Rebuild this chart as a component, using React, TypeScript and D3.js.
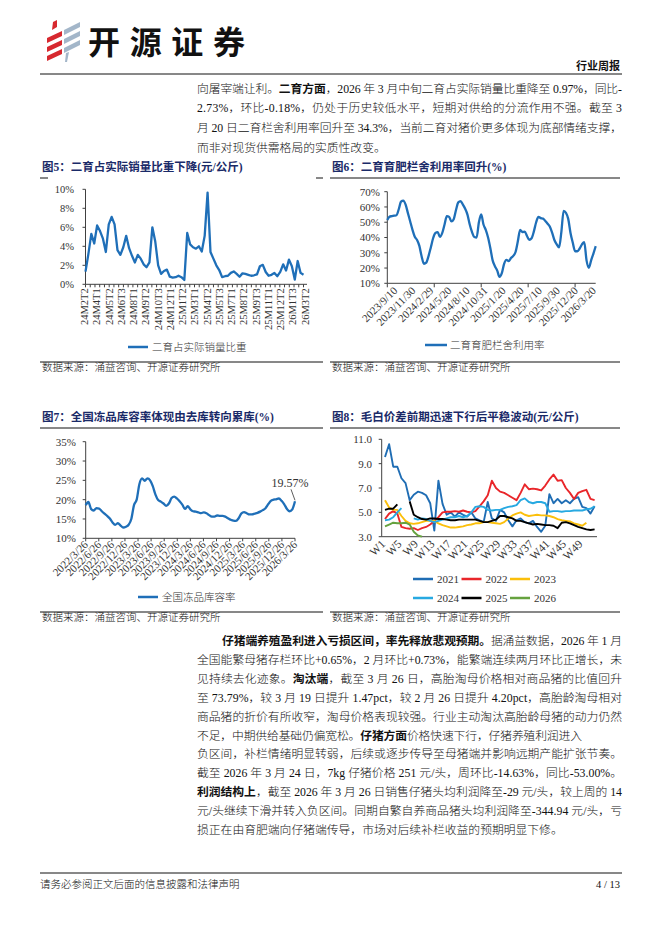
import React from 'react';
import * as d3 from 'd3';

const FONT = "'Liberation Serif','Noto Sans CJK SC',serif";
const BLUE = '#1f6fb8';
const TITLE = '#1a2a68';
const AX = '#404040';

// ---------- Chart 5: 二育占实际销量比重 (%) ----------
const share5Labels = ['24M2T2','24M4T1','24M5T2','24M6T3','24M8T1','24M9T2','24M10T3','24M12T1','25M1T2','25M3T1','25M4T2','25M5T3','25M7T1','25M8T2','25M9T3','25M11T1','25M12T2','26M1T3','26M3T2'];
const share5 = [1.33,3.2,5.3,4.3,6.2,5.6,4.8,3.4,6.3,7.1,6.3,3.6,3.1,3.9,5.1,3.8,3.0,2.3,3.1,2.7,2.1,1.8,2.3,6.0,4.5,2.0,1.1,1.4,1.55,0.8,0.7,0.75,0.9,0.75,0.45,5.4,4.2,3.9,3.75,4.0,3.45,5.1,9.65,3.4,2.7,2.0,1.5,0.75,0.85,0.9,1.2,1.35,1.1,0.8,1.15,1.1,1.0,0.9,0.95,1.05,1.9,2.05,1.3,0.9,1.0,1.2,0.85,1.3,2.1,1.45,2.6,1.9,0.5,2.45,1.2,1.0];
const share5Ticks = [0,2,4,6,8,10];

// ---------- Chart 6: 二育育肥栏舍利用率 (%) ----------
const util6Labels = ['2023/9/10','2023/11/30','2024/2/29','2024/5/20','2024/8/10','2024/10/31','2025/1/20','2025/4/20','2025/7/10','2025/9/30','2025/12/20','2026/3/20'];
const util6 = [51.5,53.7,54.0,54.3,54.6,58.5,63.5,64.2,61.5,56,50.5,45,40.5,38.4,34.5,27.6,22.8,23.5,27.8,33.5,39.5,43,43.5,40.4,43,48.5,54,53.5,50.5,52,58,63,63.8,61.5,58.8,55,48.5,43.5,40.3,40,50,55.2,48.5,45,40,33,25,21.2,18.3,14.2,16.6,22.8,25.4,24.5,26.5,28,30.5,37.5,45,43.6,43.8,41,38.5,39.5,44,50,53.5,52.7,52.4,50.8,49,47,43,38.2,35.5,33.5,43.5,57.5,56.2,52.2,43,36.5,31,31,32.8,35.5,37.0,25,20.2,25,29.5,34.3];
const util6Ticks = [10,20,30,40,50,60,70];
const util6XTicks = [0,20.5,41,61.5,82];

// ---------- Chart 7: 全国冻品库容率 (%) ----------
const frozen7Labels = ['2022/3/26','2022/6/26','2022/9/26','2022/12/26','2023/3/26','2023/6/26','2023/9/26','2023/12/26','2024/3/26','2024/6/26','2024/9/26','2024/12/26','2025/3/26','2025/6/26','2025/9/26','2025/12/26','2026/3/26'];
const frozen7 = [18.6,19.4,17.6,17.2,17.8,17.7,17.0,16.4,15.8,15.1,14.1,13.5,13.9,13.3,12.8,13.0,13.5,15.0,18.6,20.0,24.0,25.5,24.9,25.5,25.0,23.5,21.3,19.9,19.5,19.0,18.4,19.0,20.4,20.8,20.3,19.6,18.7,17.6,18.3,17.5,17.0,16.9,16.7,16.5,16.7,16.5,16.0,15.6,15.6,15.9,15.8,15.8,15.6,15.2,14.8,14.6,14.5,15.2,16.4,16.8,16.5,16.2,16.2,16.4,16.6,16.9,17.3,17.8,18.8,19.7,20.0,20.1,20.3,19.7,18.8,17.6,17.0,17.5,19.57];
const frozen7Ticks = [10,15,20,25,30,35];

// ---------- Chart 8: 毛白价差 (元/公斤) ----------
const weeks8 = d3.range(1, 53).map(i => 'W' + i);
const spread8Years = ['2021','2022','2023','2024','2025','2026'];
const spread2021 = [9.55,10.6,8.75,8.75,7.8,7.4,6.0,6.45,6.7,6.6,6.4,5.75,3.5,7.6,5.7,4.8,5.0,4.65,5.0,4.8,4.65,5.0,4.5,4.35,4.2,5.85,4.5,4.3,5.2,5.0,4.35,3.85,4.35,4.5,4.2,4.1,4.3,3.8,3.4,3.9,6.5,5.75,6.1,5.75,6.0,5.75,6.1,6.25,5.45,5.35,4.9,5.5];
const spread2022 = [4.45,4.9,5.1,4.9,3.8,3.7,3.65,3.7,3.55,3.7,3.8,4.0,4.3,4.6,5.0,5.05,5.05,5.1,5.05,5.15,5.05,5.0,5.1,5.5,5.9,6.4,7.6,7.0,6.7,6.6,6.4,6.2,6.0,6.6,7.3,6.9,6.95,6.9,6.8,7.2,7.7,8.1,7.6,7.65,7.0,6.6,6.1,6.6,6.75,6.85,6.1,6.0];
const spread2023 = [6.0,5.4,5.2,5.2,4.7,4.3,4.1,4.05,4.1,4.2,4.3,4.3,4.3,4.1,3.95,3.85,3.75,3.75,3.8,3.85,3.95,4.0,4.1,4.1,4.2,4.2,4.15,4.1,4.05,4.2,4.5,4.75,4.9,5.0,4.8,4.7,4.75,4.8,4.75,4.75,4.7,4.6,4.45,4.35,4.3,4.25,4.1,4.0,3.9,4.15,null,null];
const spread2024 = [4.35,4.4,4.6,5.0,5.35,null,null,4.5,4.4,4.5,4.45,4.3,4.2,4.3,4.4,4.5,4.6,4.6,4.7,4.6,4.7,5.0,5.45,5.5,5.45,5.2,5.15,5.2,5.2,5.35,5.45,5.5,5.6,6.0,6.15,5.85,5.75,5.85,5.85,5.75,5.05,5.1,5.1,5.05,5.1,5.1,5.15,5.15,5.15,5.25,5.3,5.5];
const spread2025 = [5.2,5.3,5.3,5.65,null,null,5.9,4.8,4.6,4.45,4.4,4.5,4.5,4.45,4.45,4.4,4.35,4.35,4.4,4.4,4.4,4.4,4.4,4.3,4.2,4.2,4.3,4.4,4.7,4.7,4.6,4.5,4.3,4.3,4.2,4.1,4.0,4.05,4.0,3.95,3.95,3.9,3.7,4.15,4.2,4.1,3.95,3.8,3.7,3.6,3.55,3.6];
const spread2026 = [3.85,4.0,4.15,4.1,4.1,4.15,4.0,3.4,3.1,3.0];
const spread8Colors = ['#1f6db4','#e9262a','#fbbf0b','#27a9e1','#000000','#66a23f'];
const spread8Ticks = [3,5,7,9,11];

// ---------- Body text ----------
type Seg = { t: string; b?: boolean };
const topLines: Seg[][] = [
  [{ t: '向屠宰端让利。' }, { t: '二育方面', b: true }, { t: '，2026 年 3 月中旬二育占实际销量比重降至 0.97%，同比-' }],
  [{ t: '2.73%，环比-0.18%，仍处于历史较低水平，短期对供给的分流作用不强。截至 3' }],
  [{ t: '月 20 日二育栏舍利用率回升至 34.3%，当前二育对猪价更多体现为底部情绪支撑，' }],
  [{ t: '而非对现货供需格局的实质性改变。' }],
];
const topJustify = [true, true, true, false];
const bottomLines: Seg[][] = [
  [{ t: '仔猪端养殖盈利进入亏损区间，率先释放悲观预期。', b: true }, { t: '据涌益数据，2026 年 1 月' }],
  [{ t: '全国能繁母猪存栏环比+0.65%，2 月环比+0.73%，能繁端连续两月环比正增长，未' }],
  [{ t: '见持续去化迹象。' }, { t: '淘汰端', b: true }, { t: '，截至 3 月 26 日，高胎淘母价格相对商品猪的比值回升' }],
  [{ t: '至 73.79%，较 3 月 19 日提升 1.47pct，较 2 月 26 日提升 4.20pct，高胎龄淘母相对' }],
  [{ t: '商品猪的折价有所收窄，淘母价格表现较强。行业主动淘汰高胎龄母猪的动力仍然' }],
  [{ t: '不足，中期供给基础仍偏宽松。' }, { t: '仔猪方面', b: true }, { t: '价格快速下行，仔猪养殖利润进入' }],
  [{ t: '负区间，补栏情绪明显转弱，后续或逐步传导至母猪端并影响远期产能扩张节奏。' }],
  [{ t: '截至 2026 年 3 月 24 日，7kg 仔猪价格 251 元/头，周环比-14.63%，同比-53.00%。' }],
  [{ t: '利润结构上', b: true }, { t: '，截至 2026 年 3 月 26 日销售仔猪头均利润降至-29 元/头，较上周的 14' }],
  [{ t: '元/头继续下滑并转入负区间。同期自繁自养商品猪头均利润降至-344.94 元/头，亏' }],
  [{ t: '损正在由育肥端向仔猪端传导，市场对后续补栏收益的预期明显下修。' }],
];
const bottomWidths = [400, 425, 425, 425, 425, 385, 425, 425, 425, 425, 0];

function TextLine({ x, y, segs, width, fs = 11.8 }: { x: number; y: number; segs: Seg[]; width: number; fs?: number }) {
  const extra: any = width > 0 ? { textLength: width, lengthAdjust: 'spacing' } : {};
  return (
    <text x={x} y={y} fontSize={fs} fill="#111" {...extra}>
      {segs.map((s, i) => (
        <tspan key={i} fontWeight={s.b ? 700 : 300}>{s.t}</tspan>
      ))}
    </text>
  );
}

function Title({ x, y, text }: { x: number; y: number; text: string }) {
  return <text x={x} y={y} fontSize={11.5} fontWeight={700} fill={TITLE}>{text}</text>;
}

function Source({ x, y }: { x: number; y: number }) {
  return <text x={x} y={y} fontSize={10.5} fontWeight={300} fill="#111">数据来源：涌益咨询、开源证券研究所</text>;
}

function Chart5() {
  const n = share5.length;
  const x = d3.scaleLinear().domain([0, n - 1]).range([85.5, 303.5]);
  const y = d3.scaleLinear().domain([0, 10]).range([284.3, 189.3]);
  const line = d3.line<number>().x((_, i) => x(i)).y(d => y(d));
  const minor = d3.range(47).map(i => x((i * (n - 1)) / 46));
  const lab = d3.scalePoint<string>().domain(share5Labels).range([84.5, 305]);
  return (
    <g>
      <line x1={x(0)} x2={x(0)} y1={y(10)} y2={y(0)} stroke={AX} />
      {share5Ticks.map(t => (
        <g key={t}>
          <line x1={x(0) - 3} x2={x(0)} y1={y(t)} y2={y(t)} stroke={AX} />
          <text x={74} y={y(t)} dy="0.35em" textAnchor="end" fontSize={10.5} fill="#333">{t}%</text>
        </g>
      ))}
      <line x1={x(0)} x2={307} y1={y(0)} y2={y(0)} stroke={AX} />
      {minor.map((m, i) => <line key={i} x1={m} x2={m} y1={y(0)} y2={y(0) + 3} stroke={AX} />)}
      {share5Labels.map(l => (
        <text key={l} transform={`translate(${lab(l)},${y(0) + 4}) rotate(-90)`} dy="0.35em" textAnchor="end" fontSize={10.5} fill="#333">{l}</text>
      ))}
      <path d={line(share5) || ''} fill="none" stroke={BLUE} strokeWidth={2.3} strokeLinejoin="round" />
      <line x1={128} x2={148} y1={347} y2={347} stroke={BLUE} strokeWidth={2.5} />
      <text x={152} y={347} dy="0.35em" fontSize={10.5} fontWeight={300} fill="#333">二育占实际销量比重</text>
    </g>
  );
}

function Chart6() {
  const n = util6.length;
  const x = d3.scaleLinear().domain([0, n - 1]).range([387.3, 595.7]);
  const y = d3.scaleLinear().domain([10, 70]).range([283.3, 191.7]);
  const line = d3.line<number>().x((_, i) => x(i)).y(d => y(d)).curve(d3.curveMonotoneX);
  const lab = d3.scalePoint<string>().domain(util6Labels).range([x(4.7), x(n - 1) + 1]);
  return (
    <g>
      <line x1={x(0)} x2={x(0)} y1={y(70)} y2={y(10)} stroke={AX} />
      {util6Ticks.map(t => (
        <g key={t}>
          <line x1={x(0) - 3} x2={x(0)} y1={y(t)} y2={y(t)} stroke={AX} />
          <text x={380} y={y(t)} dy="0.35em" textAnchor="end" fontSize={11} fill="#333">{t}%</text>
        </g>
      ))}
      <line x1={x(0)} x2={x(n - 1)} y1={y(10)} y2={y(10)} stroke={AX} />
      {util6XTicks.map(t => <line key={t} x1={x(t)} x2={x(t)} y1={y(10)} y2={y(10) + 4} stroke={AX} />)}
      {util6Labels.map(l => (
        <text key={l} transform={`translate(${lab(l)},${y(10) + 8}) rotate(-45)`} textAnchor="end" fontSize={11} fill="#333">{l}</text>
      ))}
      <path d={line(util6) || ''} fill="none" stroke={BLUE} strokeWidth={2.3} strokeLinejoin="round" />
      <line x1={425} x2={447} y1={345} y2={345} stroke={BLUE} strokeWidth={2.5} />
      <text x={450} y={345} dy="0.35em" fontSize={10.5} fontWeight={300} fill="#333">二育育肥栏舍利用率</text>
    </g>
  );
}

function Chart7() {
  const n = frozen7.length;
  const x = d3.scaleLinear().domain([0, n - 1]).range([85.7, 295]);
  const y = d3.scaleLinear().domain([10, 35]).range([538.3, 441.7]);
  const line = d3.line<number>().x((_, i) => x(i)).y(d => y(d)).curve(d3.curveMonotoneX);
  const lab = d3.scalePoint<string>().domain(frozen7Labels).range([x(0), x(n - 1)]);
  const last = frozen7[n - 1];
  return (
    <g>
      <line x1={x(0)} x2={x(0)} y1={y(35)} y2={y(10)} stroke={AX} />
      {frozen7Ticks.map(t => (
        <g key={t}>
          <line x1={x(0) - 3} x2={x(0)} y1={y(t)} y2={y(t)} stroke={AX} />
          <text x={76} y={y(t)} dy="0.35em" textAnchor="end" fontSize={11} fill="#333">{t}%</text>
        </g>
      ))}
      <line x1={x(0)} x2={x(n - 1)} y1={y(10)} y2={y(10)} stroke={AX} />
      {frozen7Labels.map(l => (
        <g key={l}>
          <line x1={lab(l)} x2={lab(l)} y1={y(10)} y2={y(10) + 3} stroke={AX} />
          <text transform={`translate(${(lab(l) || 0) + 3},${y(10) + 7}) rotate(-45)`} textAnchor="end" fontSize={11} fill="#333">{l}</text>
        </g>
      ))}
      <path d={line(frozen7) || ''} fill="none" stroke={BLUE} strokeWidth={2.3} strokeLinejoin="round" />
      <line x1={x(n - 1) - 4} x2={x(n - 1)} y1={y(last) - 12} y2={y(last) - 1} stroke="#333" strokeWidth={0.8} />
      <text x={x(n - 1) - 5} y={y(last) - 14} textAnchor="middle" fontSize={12} fill="#333">{last.toFixed(2)}%</text>
      <line x1={138} x2={158} y1={597} y2={597} stroke={BLUE} strokeWidth={2.5} />
      <text x={162} y={597} dy="0.35em" fontSize={10.5} fontWeight={300} fill="#333">全国冻品库容率</text>
    </g>
  );
}

function Chart8() {
  const x = d3.scalePoint<string>().domain(weeks8).range([385, 594.6]);
  const y = d3.scaleLinear().domain([3, 11]).range([536.7, 439.3]);
  const series = [spread2021, spread2022, spread2023, spread2024, spread2025, spread2026];
  const line = d3.line<number | null>()
    .defined(d => d != null)
    .x((_, i) => x(weeks8[i]) || 0)
    .y(d => y(d as number));
  const labWeeks = weeks8.filter((_, i) => i % 4 === 0);
  const legendX = [413, 461.5, 510];
  const legendY = [579, 598];
  return (
    <g>
      <line x1={381.7} x2={381.7} y1={y(11)} y2={y(3)} stroke={AX} />
      {spread8Ticks.map(t => (
        <g key={t}>
          <line x1={378.7} x2={381.7} y1={y(t)} y2={y(t)} stroke={AX} />
          <text x={372} y={y(t)} dy="0.35em" textAnchor="end" fontSize={11} fill="#333">{t.toFixed(1)}</text>
        </g>
      ))}
      <line x1={381.7} x2={597} y1={y(3)} y2={y(3)} stroke={AX} />
      {labWeeks.map(w => (
        <text key={w} transform={`translate(${(x(w) || 0) + 1},${y(3) + 8}) rotate(-45)`} textAnchor="end" fontSize={11.5} fill="#333">{w}</text>
      ))}
      {series.map((s, k) => (
        <path key={k} d={line(s) || ''} fill="none" stroke={spread8Colors[k]} strokeWidth={1.9} strokeLinejoin="round" />
      ))}
      {spread8Years.map((yr, k) => {
        const lx = legendX[k % 3];
        const ly = legendY[Math.floor(k / 3)];
        return (
          <g key={yr}>
            <line x1={lx} x2={lx + 20} y1={ly} y2={ly} stroke={spread8Colors[k]} strokeWidth={2.5} />
            <text x={lx + 24} y={ly} dy="0.35em" fontSize={11} fill="#333">{yr}</text>
          </g>
        );
      })}
    </g>
  );
}

function Logo() {
  return (
    <g>
      <path d="M53,22 L57,20 L57,27 L52,30 Z" fill="#d7282f" />
      <path d="M47,38 L62,31 L62,36 L47,43 Z" fill="#d7282f" />
      <path d="M47,47 L62,40 L62,45 L47,52 Z" fill="#d7282f" />
      <path d="M47,56 L62,49 L62,54 L47,61 Z" fill="#d7282f" />
      <path d="M64,30 L80,22 L80,27 L64,35 Z" fill="#a3b6c9" />
      <path d="M64,39 L80,31 L80,36 L64,44 Z" fill="#a3b6c9" />
      <path d="M64,48 L80,40 L80,45 L64,53 Z" fill="#a3b6c9" />
      <path d="M66,53 L69,52 L67,62 L65,62 Z" fill="#a3b6c9" />
    </g>
  );
}

export default function App() {
  return (
    <div style={{ position: 'absolute', left: 0, top: 0, width: 662, height: 936, background: '#fff' }}>
      <svg width={662} height={936} style={{ display: 'block' }} fontFamily={FONT}>
        <rect width={662} height={936} fill="#fff" />
        <Logo />
        <text x={88} y={54} fontSize={32} fontWeight={700} fill="#111" textLength={157} lengthAdjust="spacing" fontFamily="'Noto Sans CJK SC',sans-serif">开源证券</text>
        <text x={620} y={70} fontSize={11} fontWeight={700} textAnchor="end" fill="#111">行业周报</text>
        <line x1={40} x2={622} y1={74} y2={74} stroke="#111" strokeWidth={1} />

        {topLines.map((segs, i) => (
          <TextLine key={i} x={197} y={92.5 + i * 19.7} segs={segs} width={topJustify[i] ? 425 : 0} />
        ))}

        <Title x={42} y={171} text="图5：二育占实际销量比重下降(元/公斤)" />
        <line x1={40} x2={48} y1={178} y2={178} stroke="#111" />
        <line x1={316} x2={323} y1={178} y2={178} stroke="#111" />
        <Chart5 />
        <line x1={40} x2={323} y1={362} y2={362} stroke="#111" />
        <Source x={42} y={371} />

        <Title x={332} y={171} text="图6：二育育肥栏舍利用率回升(%)" />
        <line x1={330} x2={620} y1={178} y2={178} stroke="#111" />
        <Chart6 />
        <line x1={330} x2={620} y1={362} y2={362} stroke="#111" />
        <Source x={332} y={371} />

        <Title x={42} y={421} text="图7：全国冻品库容率体现由去库转向累库(%)" />
        <line x1={40} x2={323} y1={428} y2={428} stroke="#111" />
        <Chart7 />
        <line x1={40} x2={323} y1={612} y2={612} stroke="#111" />
        <Source x={42} y={621} />

        <Title x={332} y={421} text="图8：毛白价差前期迅速下行后平稳波动(元/公斤)" />
        <line x1={330} x2={620} y1={428} y2={428} stroke="#111" />
        <Chart8 />
        <line x1={330} x2={620} y1={612} y2={612} stroke="#111" />
        <Source x={332} y={621} />

        {bottomLines.map((segs, i) => (
          <TextLine key={i} x={i === 0 ? 222 : 197} y={645.3 + i * 18.85} segs={segs} width={bottomWidths[i]} />
        ))}

        <line x1={40} x2={622} y1={873} y2={873} stroke="#111" strokeWidth={1} />
        <text x={40} y={888} fontSize={10.5} fontWeight={300} fill="#111">请务必参阅正文后面的信息披露和法律声明</text>
        <text x={620} y={888} fontSize={10.5} textAnchor="end" fill="#111">4 / 13</text>
      </svg>
    </div>
  );
}
